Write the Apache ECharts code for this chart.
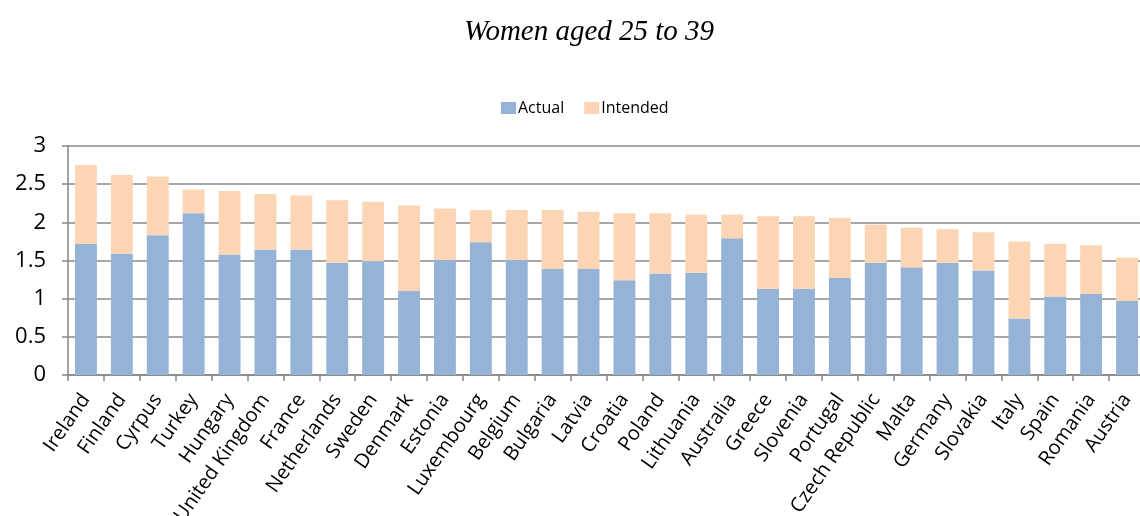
<!DOCTYPE html>
<html>
<head>
<meta charset="utf-8">
<script src="https://cdn.jsdelivr.net/npm/echarts@6/dist/echarts.min.js"></script>
<style>html,body{margin:0;padding:0;background:#fff;}#c{width:1140px;height:516px;}</style>
</head>
<body>
<div id="c"></div>
<script>
var countries = ['Ireland','Finland','Cyrpus','Turkey','Hungary','United Kingdom','France','Netherlands','Sweden','Denmark','Estonia','Luxembourg','Belgium','Bulgaria','Latvia','Croatia','Poland','Lithuania','Australia','Greece','Slovenia','Portugal','Czech Republic','Malta','Germany','Slovakia','Italy','Spain','Romania','Austria'];
var actual = [1.72,1.59,1.83,2.12,1.58,1.64,1.64,1.47,1.49,1.10,1.51,1.74,1.51,1.39,1.39,1.24,1.33,1.34,1.79,1.13,1.13,1.27,1.47,1.41,1.47,1.37,0.74,1.03,1.06,0.97];
var intendedTotal = [2.75,2.62,2.60,2.43,2.41,2.37,2.35,2.29,2.27,2.22,2.18,2.16,2.16,2.16,2.14,2.12,2.12,2.10,2.10,2.08,2.08,2.06,1.97,1.93,1.91,1.87,1.75,1.72,1.70,1.54];
var yTicks = [0,0.5,1,1.5,2,2.5,3];

var intendedGap = intendedTotal.map(function(v,i){ return Math.round((v - actual[i])*100)/100; });

var chart = echarts.init(document.getElementById('c'));
chart.setOption({
  animation: false,
  backgroundColor: '#fff',
  title: {
    text: 'Women aged 25 to 39',
    left: 584, top: 13, textAlign: 'center',
    textStyle: { fontFamily: 'Liberation Serif', fontStyle: 'italic', fontWeight: 'normal', fontSize: 29, color: '#000' }
  },
  legend: {
    left: 496, top: 95,
    itemWidth: 15, itemHeight: 12, itemGap: 20,
    icon: 'rect',
    textStyle: { fontFamily: 'Open Sans', fontSize: 16, color: '#000', padding: [0,0,0,-3] },
    data: ['Actual','Intended']
  },
  grid: { left: 68, right: -5, top: 146, bottom: 141, containLabel: false, outerBoundsMode: 'none' },
  xAxis: {
    type: 'category',
    data: countries,
    axisLine: { lineStyle: { color: '#868686', width: 1.5 } },
    axisTick: { show: true, length: 6, lineStyle: { color: '#868686', width: 1.5 } },
    axisLabel: { interval: 0, rotate: 55, margin: 21, fontFamily: 'Open Sans', fontSize: 20, color: '#000' }
  },
  yAxis: {
    type: 'value',
    min: yTicks[0], max: yTicks[yTicks.length-1], interval: 0.5,
    axisLine: { show: true, lineStyle: { color: '#868686', width: 1.5 } },
    axisTick: { show: true, length: 6, lineStyle: { color: '#868686', width: 1.5 } },
    axisLabel: { margin: 22, fontFamily: 'Open Sans', fontSize: 22, color: '#000' },
    splitLine: { show: true, lineStyle: { color: '#8a8a8a', width: 1.5 } }
  },
  series: [
    { name: 'Actual', type: 'bar', stack: 'a', data: actual, barWidth: '61%',
      itemStyle: { color: '#95B3D7' } },
    { name: 'Intended', type: 'bar', stack: 'a', data: intendedGap, barWidth: '61%',
      itemStyle: { color: '#FCD5B5' } }
  ]
});
</script>
</body>
</html>
